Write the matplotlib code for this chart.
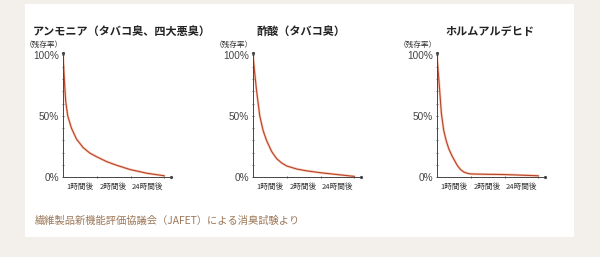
import matplotlib
matplotlib.use("Agg")
import matplotlib.pyplot as plt
from matplotlib.patches import Rectangle

plt.rcParams['font.family'] = ['Noto Sans CJK JP', 'DejaVu Sans']

# data (x: 0 = start, 1 = 1h, 2 = 2h, 3 = 24h)
titles = ["アンモニア（タバコ臭、四大悪臭）", "酢酸（タバコ臭）", "ホルムアルデヒド"]
time_labels = ["1時間後", "2時間後", "24時間後"]
ammonia_x = [0, 0.02, 0.05, 0.08, 0.14, 0.25, 0.4, 0.6, 0.8, 1.0, 1.3, 1.6, 2.0, 2.5, 3.0]
ammonia_y = [100, 90, 75, 62, 50, 40, 31, 24, 19.5, 16.5, 12.5, 9.5, 6, 3, 1]
acetic_x = [0, 0.04, 0.1, 0.2, 0.3, 0.4, 0.55, 0.7, 0.85, 1.0, 1.3, 1.6, 2.0, 2.5, 3.0]
acetic_y = [100, 88, 72, 50, 38, 30, 21, 15, 11.5, 9, 6.5, 5, 3.5, 2, 0.5]
formal_x = [0, 0.03, 0.06, 0.1, 0.13, 0.2, 0.27, 0.35, 0.45, 0.6, 0.7, 0.8, 0.9, 1.0, 1.5, 2.0, 2.5, 3.0]
formal_y = [100, 88, 78, 63, 52, 38, 30, 23, 17, 9.5, 6, 4, 3, 2.5, 2.2, 2, 1.5, 1]
footer = "繊維製品新機能評価協議会（JAFET）による消臭試験より"

series = [(ammonia_x, ammonia_y), (acetic_x, acetic_y), (formal_x, formal_y)]

W, H = 600, 257
fig = plt.figure(figsize=(6, 2.57), dpi=100)
fig.patch.set_facecolor('#f3efeb')
fig.patches.append(Rectangle((25 / W, 1 - 237 / H), 549 / W, 233 / H,
                             transform=fig.transFigure, facecolor='white',
                             edgecolor='none', zorder=-5))

lefts = [63, 253, 437]
title_x = [33, 301, 490]
axis_col = '#444444'

for i, (xs, ys) in enumerate(series):
    ax = fig.add_axes([lefts[i] / W, 1 - 177 / H, 108 / W, 124 / H])
    ax.set_facecolor('none')
    # soft orange halo + red-brown core, like the original drawing
    ax.plot(xs, ys, color='#f4a47c', linewidth=1.8, alpha=0.55, solid_capstyle='round')
    ax.plot(xs, ys, color='#b8432c', linewidth=0.8)
    ax.set_xlim(0, 3.2)
    ax.set_ylim(0, 101.5)
    for s in ['top', 'right']:
        ax.spines[s].set_visible(False)
    for s in ['left', 'bottom']:
        ax.spines[s].set_color(axis_col)
        ax.spines[s].set_linewidth(0.7)
    # axis end dots
    ax.plot(1, 0, marker='o', markersize=1.3, color=axis_col, transform=ax.transAxes, clip_on=False)
    ax.plot(0, 1, marker='o', markersize=1.3, color=axis_col, transform=ax.transAxes, clip_on=False)

    ax.set_yticks([0, 50, 100])
    ax.set_yticklabels(['0%', '50%', '100%'], family='Liberation Sans', fontsize=7.2, color='#333333')
    ax.set_yticks(range(10, 100, 10), minor=True)
    ax.tick_params(axis='y', which='major', length=2, width=0.6, direction='inout', pad=2, colors=axis_col)
    ax.tick_params(axis='y', which='minor', length=2, width=0.5, direction='inout', colors=axis_col)

    ax.set_xticks([1, 2, 3])
    ax.set_xticklabels([])
    ax.set_xticks([0.5, 1.5, 2.5], minor=True)
    ax.set_xticklabels(time_labels, minor=True, fontsize=5.5, color='#333333')
    ax.tick_params(axis='x', which='major', length=1.5, width=0.6, direction='inout', colors=axis_col)
    ax.tick_params(axis='x', which='minor', length=0, pad=4)

    ax.text(0.0, 1.065, "（残存率）", transform=ax.transAxes, fontsize=5.5,
            color='#333333', ha='right', va='center')

    if i == 0:
        fig.text(title_x[i] / W, 1 - 31 / H, titles[i], fontsize=8, fontweight='bold',
                 color='#222222', ha='left', va='center')
    else:
        fig.text(title_x[i] / W, 1 - 31 / H, titles[i], fontsize=8, fontweight='bold',
                 color='#222222', ha='center', va='center')

fig.text(35 / W, 1 - 221 / H, footer, fontsize=7.4, color='#9c7758', ha='left', va='center')

fig.savefig("out.png", dpi=100, facecolor=fig.get_facecolor())
